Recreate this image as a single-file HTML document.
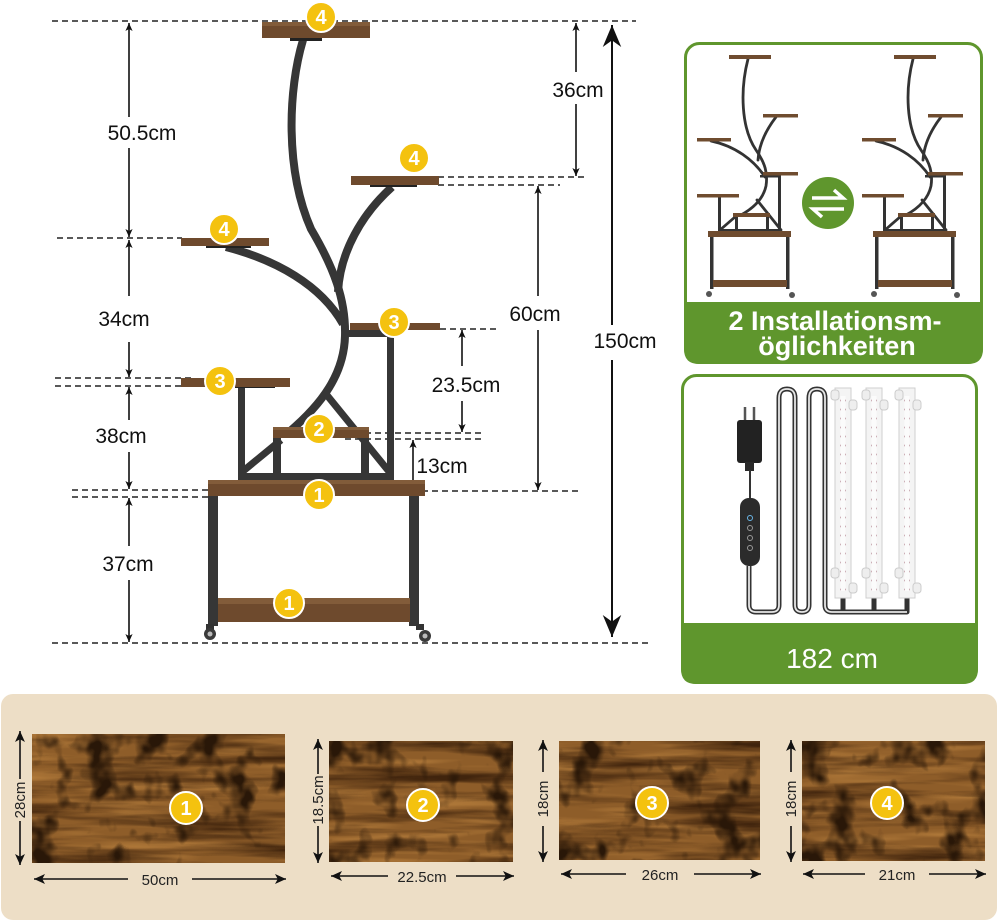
<!DOCTYPE html>
<html><head><meta charset="utf-8"><style>
html,body{margin:0;padding:0;background:#fff;}
svg{display:block;}
text{font-family:"Liberation Sans",sans-serif;}
</style></head><body>
<svg width="1000" height="923" viewBox="0 0 1000 923" xmlns="http://www.w3.org/2000/svg">
<defs>
<marker id="ah" viewBox="0 0 10 10" refX="10" refY="5" markerWidth="8" markerHeight="8" markerUnits="userSpaceOnUse" orient="auto-start-reverse"><path d="M0,0.5 L10,5 L0,9.5 L2.5,5 z" fill="#111"/></marker>
<marker id="ahb" viewBox="0 0 10 10" refX="10" refY="5" markerWidth="11" markerHeight="11" markerUnits="userSpaceOnUse" orient="auto-start-reverse"><path d="M0,0.5 L10,5 L0,9.5 L2.5,5 z" fill="#111"/></marker>
<marker id="big" viewBox="0 0 10 10" refX="10" refY="5" markerWidth="22" markerHeight="22" markerUnits="userSpaceOnUse" orient="auto-start-reverse"><path d="M0,0.8 L10,5 L0,9.2 L3,5 z" fill="#111"/></marker>
<filter id="wf" x="0" y="0" width="1" height="1" color-interpolation-filters="sRGB">
<feTurbulence type="fractalNoise" baseFrequency="0.006 0.07" numOctaves="4" seed="7" result="g"/>
<feColorMatrix in="g" type="matrix" values="0 0 0 0 0.25  0 0 0 0 0.14  0 0 0 0 0.05  2.6 0 0 0 -1.1" result="d"/>
<feTurbulence type="fractalNoise" baseFrequency="0.035 0.03" numOctaves="3" seed="3" result="s"/>
<feColorMatrix in="s" type="matrix" values="0 0 0 0 0.16  0 0 0 0 0.09  0 0 0 0 0.03  4.0 0 0 0 -2.05" result="sp"/>
<feTurbulence type="fractalNoise" baseFrequency="0.01 0.12" numOctaves="2" seed="11" result="l"/>
<feColorMatrix in="l" type="matrix" values="0 0 0 0 0.72  0 0 0 0 0.5  0 0 0 0 0.24  2.2 0 0 0 -1.05" result="lt"/>
<feComposite in="lt" in2="SourceGraphic" operator="over" result="c0"/>
<feComposite in="d" in2="c0" operator="over" result="c"/>
<feComposite in="sp" in2="c" operator="over" result="c2"/>
<feComposite in="c2" in2="SourceAlpha" operator="in"/>
</filter>
<pattern id="dots" x="0" y="0" width="6" height="9" patternUnits="userSpaceOnUse"><circle cx="3" cy="4.5" r="1" fill="#c8a9b0"/></pattern>
<g id="mini">
  <g fill="none" stroke="#333" stroke-width="2.8" stroke-linecap="round">
    <path d="M748,59 C740,90 741,128 756,150 C765,163 768,173 766,186 C763,200 752,209 741,215"/>
    <path d="M776,117 C766,130 759,145 758,160"/>
    <path d="M711,141 C735,146 754,160 765,177"/>
    <path d="M757,200 L781,230"/>
    <path d="M720,230 L735,217"/>
  </g>
  <g fill="#333">
    <rect x="778" y="175" width="3" height="57"/>
    <rect x="718" y="197" width="3" height="35"/>
    <rect x="735" y="217" width="3" height="15"/>
    <rect x="766" y="217" width="3" height="15"/>
    <rect x="718" y="229" width="63" height="3"/>
    <rect x="710" y="237" width="3.5" height="52"/>
    <rect x="786" y="237" width="3.5" height="52"/>
    <rect x="760" y="175" width="20" height="2.5"/>
  </g>
  <g fill="#6f4c2f">
    <rect x="729" y="55" width="42" height="4"/>
    <rect x="763" y="114" width="35" height="3.5"/>
    <rect x="697" y="138" width="34" height="3.5"/>
    <rect x="763" y="172" width="35" height="3.5"/>
    <rect x="697" y="194" width="42" height="3.5"/>
    <rect x="733" y="213" width="37" height="4"/>
    <rect x="708" y="231" width="83" height="6"/>
    <rect x="713" y="280" width="74" height="7"/>
  </g>
  <circle cx="709" cy="294" r="3" fill="#555"/>
  <circle cx="792" cy="295" r="3" fill="#555"/>
</g>
<g id="led">
  <rect x="-8" y="388" width="16" height="210" fill="#f4f4f4" stroke="#cfcfcf" stroke-width="1"/>
  <rect x="-2.5" y="396" width="5" height="195" fill="#fbfbfb"/>
  <rect x="-3" y="396" width="6" height="195" fill="url(#dots)"/>
  <rect x="-12" y="390" width="8" height="10" rx="3" fill="#eee" stroke="#ccc"/>
  <rect x="6" y="400" width="8" height="10" rx="3" fill="#eee" stroke="#ccc"/>
  <rect x="-12" y="568" width="8" height="10" rx="3" fill="#eee" stroke="#ccc"/>
  <rect x="6" y="583" width="8" height="10" rx="3" fill="#eee" stroke="#ccc"/>
</g>
</defs>

<!-- ============ MAIN DIAGRAM ============ -->
<g stroke="#222" stroke-width="1.4" stroke-dasharray="6,4" fill="none">
  <line x1="52" y1="21" x2="636" y2="21"/>
  <line x1="438" y1="177" x2="588" y2="177"/>
  <line x1="438" y1="185" x2="560" y2="185"/>
  <line x1="57" y1="238" x2="182" y2="238"/>
  <line x1="440" y1="329" x2="496" y2="329"/>
  <line x1="55" y1="378" x2="195" y2="378"/>
  <line x1="55" y1="386" x2="195" y2="386"/>
  <line x1="345" y1="433" x2="484" y2="433"/>
  <line x1="345" y1="439" x2="484" y2="439"/>
  <line x1="72" y1="490" x2="208" y2="490"/>
  <line x1="72" y1="497" x2="208" y2="497"/>
  <line x1="372" y1="491" x2="580" y2="491"/>
  <line x1="52" y1="643" x2="648" y2="643"/>
</g>

<g stroke="#111" stroke-width="1.6" fill="none">
  <line x1="129" y1="23" x2="129" y2="117" marker-start="url(#ah)"/>
  <line x1="129" y1="148" x2="129" y2="237" marker-end="url(#ah)"/>
  <line x1="129" y1="240" x2="129" y2="296" marker-start="url(#ah)"/>
  <line x1="129" y1="342" x2="129" y2="377" marker-end="url(#ah)"/>
  <line x1="129" y1="387" x2="129" y2="420" marker-start="url(#ah)"/>
  <line x1="129" y1="452" x2="129" y2="489" marker-end="url(#ah)"/>
  <line x1="129" y1="498" x2="129" y2="546" marker-start="url(#ah)"/>
  <line x1="129" y1="580" x2="129" y2="642" marker-end="url(#ah)"/>
  <line x1="576" y1="23" x2="576" y2="72" marker-start="url(#ah)"/>
  <line x1="576" y1="104" x2="576" y2="176" marker-end="url(#ah)"/>
  <line x1="538" y1="186" x2="538" y2="296" marker-start="url(#ah)"/>
  <line x1="538" y1="330" x2="538" y2="490" marker-end="url(#ah)"/>
  <line x1="462" y1="330" x2="462" y2="366" marker-start="url(#ah)"/>
  <line x1="462" y1="401" x2="462" y2="432" marker-end="url(#ah)"/>
  <line x1="413" y1="440" x2="413" y2="490" marker-start="url(#ah)" marker-end="url(#ah)"/>
  <line x1="612" y1="25" x2="612" y2="325" stroke-width="2" marker-start="url(#big)"/>
  <line x1="612" y1="360" x2="612" y2="637" stroke-width="2" marker-end="url(#big)"/>
</g>

<g font-size="21" fill="#111" text-anchor="middle">
  <text x="142" y="140">50.5cm</text>
  <text x="578" y="97">36cm</text>
  <text x="124" y="326">34cm</text>
  <text x="535" y="321">60cm</text>
  <text x="625" y="348">150cm</text>
  <text x="466" y="392">23.5cm</text>
  <text x="121" y="443">38cm</text>
  <text x="442" y="473">13cm</text>
  <text x="128" y="571">37cm</text>
</g>

<g fill="none" stroke="#363636" stroke-width="8" stroke-linecap="butt">
  <path d="M303,40 C288,90 285,170 311,229 C334,268 346,300 345,336 C344,374 322,404 289,432"/>
  <path d="M392,187 C362,214 340,252 338,292"/>
  <path d="M226,247 C276,260 321,285 343,324"/>
</g>
<g stroke="#363636" stroke-width="7" fill="none">
  <line x1="242" y1="472" x2="281" y2="440"/>
  <line x1="326" y1="394" x2="391" y2="474"/>
</g>
<g fill="#363636">
  <rect x="343" y="330" width="50" height="7"/>
  <rect x="387" y="335" width="7" height="146"/>
  <rect x="238" y="387" width="7" height="94"/>
  <rect x="238" y="473" width="156" height="8"/>
  <rect x="273" y="438" width="8" height="50"/>
  <rect x="361" y="438" width="8" height="50"/>
  <rect x="290" y="35" width="32" height="6" fill="#222"/>
  <rect x="370" y="183" width="47" height="4" fill="#222"/>
  <rect x="206" y="244" width="45" height="4" fill="#222"/>
  <rect x="235" y="385" width="40" height="3" fill="#222"/>
  <rect x="208" y="496" width="10" height="130"/>
  <rect x="409" y="496" width="10" height="130"/>
</g>
<g fill="#6e4a2d">
  <rect x="262" y="22" width="108" height="16"/>
  <rect x="351" y="176" width="88" height="9"/>
  <rect x="181" y="238" width="88" height="8"/>
  <rect x="350" y="323" width="90" height="7"/>
  <rect x="181" y="378" width="109" height="9"/>
  <rect x="273" y="427" width="96" height="11"/>
  <rect x="208" y="480" width="217" height="16"/>
  <rect x="218" y="598" width="192" height="24"/>
</g>
<g fill="#8a6440" opacity="0.7">
  <rect x="262" y="22" width="108" height="4"/>
  <rect x="208" y="480" width="217" height="4"/>
  <rect x="273" y="427" width="96" height="3"/>
  <rect x="218" y="598" width="192" height="6"/>
</g>
<g>
  <rect x="206" y="624" width="8" height="6" fill="#333"/>
  <circle cx="210" cy="634" r="6" fill="#3a3a3a"/><circle cx="210" cy="634" r="2.5" fill="#bbb"/>
  <rect x="416" y="624" width="8" height="6" fill="#333"/>
  <circle cx="425" cy="636" r="6" fill="#3a3a3a"/><circle cx="425" cy="636" r="2.5" fill="#bbb"/>
</g>

<g font-size="20" font-weight="bold" fill="#fff" text-anchor="middle">
  <g><circle cx="321" cy="17" r="15" fill="#f4c20f" stroke="#fff" stroke-width="2"/><text x="321" y="24">4</text></g>
  <g><circle cx="414" cy="158" r="15" fill="#f4c20f" stroke="#fff" stroke-width="2"/><text x="414" y="165">4</text></g>
  <g><circle cx="224" cy="229" r="15" fill="#f4c20f" stroke="#fff" stroke-width="2"/><text x="224" y="236">4</text></g>
  <g><circle cx="394" cy="322" r="15" fill="#f4c20f" stroke="#fff" stroke-width="2"/><text x="394" y="329">3</text></g>
  <g><circle cx="220" cy="381" r="15" fill="#f4c20f" stroke="#fff" stroke-width="2"/><text x="220" y="388">3</text></g>
  <g><circle cx="319" cy="429" r="15" fill="#f4c20f" stroke="#fff" stroke-width="2"/><text x="319" y="436">2</text></g>
  <g><circle cx="319" cy="495" r="15" fill="#f4c20f" stroke="#fff" stroke-width="2"/><text x="319" y="502">1</text></g>
  <g><circle cx="289" cy="603" r="15" fill="#f4c20f" stroke="#fff" stroke-width="2"/><text x="289" y="610">1</text></g>
</g>

<!-- ============ PANEL 1 ============ -->
<rect x="685.5" y="43.5" width="296" height="319" rx="14" fill="#fff" stroke="#5f962d" stroke-width="3"/>
<path d="M684,302 H983 V349 Q983,364 968,364 H699 Q684,364 684,349 Z" fill="#5f962d"/>
<use href="#mini"/>
<use href="#mini" transform="translate(165,0)"/>
<circle cx="828" cy="203" r="26" fill="#5f962d"/>
<g stroke="#fff" stroke-width="3.5" fill="none" stroke-linejoin="miter" stroke-linecap="butt">
  <path d="M812,198 H843 L834,190"/>
  <path d="M844,209 H813 L822,217"/>
</g>
<g font-size="27" font-weight="bold" fill="#fff" text-anchor="middle">
  <text x="835" y="330">2 Installationsm-</text>
  <text x="837" y="355">öglichkeiten</text>
</g>

<!-- ============ PANEL 2 ============ -->
<rect x="682.5" y="375.5" width="294" height="307" rx="14" fill="#fff" stroke="#5f962d" stroke-width="3"/>
<path d="M681,623 H978 V669 Q978,684 963,684 H696 Q681,684 681,669 Z" fill="#5f962d"/>
<g fill="none" stroke-linejoin="round">
  <path d="M749,566 L749,605 Q749,612 756,612 L772,612 Q779,612 779,605 L779,398 Q779,389 787,389 Q795,389 795,398 L795,605 Q795,612 802,612 Q809,612 809,605 L809,398 Q809,389 817,389 Q825,389 825,398 L825,605 Q825,612 832,612 L907,612 L907,598 M843,612 L843,598 M874,612 L874,598" stroke="#333" stroke-width="5"/>
  <path d="M749,566 L749,605 Q749,612 756,612 L772,612 Q779,612 779,605 L779,398 Q779,389 787,389 Q795,389 795,398 L795,605 Q795,612 802,612 Q809,612 809,605 L809,398 Q809,389 817,389 Q825,389 825,398 L825,605 Q825,612 832,612 L907,612" stroke="#e6e6e6" stroke-width="1.8"/>
</g>
<line x1="745" y1="407" x2="745" y2="421" stroke="#555" stroke-width="2.5"/>
<line x1="754" y1="407" x2="754" y2="421" stroke="#555" stroke-width="2.5"/>
<rect x="737" y="420" width="25" height="43" rx="3" fill="#222"/>
<rect x="745" y="462" width="9" height="9" fill="#2a2a2a"/>
<line x1="750" y1="470" x2="750" y2="499" stroke="#333" stroke-width="2"/>
<rect x="740" y="498" width="20" height="68" rx="9" fill="#2b2b2b"/>
<g fill="none" stroke="#999" stroke-width="1">
  <circle cx="750" cy="518" r="2.5" stroke="#6bb6e6"/>
  <circle cx="750" cy="528" r="2.5"/>
  <circle cx="750" cy="538" r="2.5"/>
  <circle cx="750" cy="548" r="2.5"/>
</g>
<use href="#led" transform="translate(843,0)"/>
<use href="#led" transform="translate(874,0)"/>
<use href="#led" transform="translate(907,0)"/>
<text x="832" y="668" font-size="28" fill="#fff" text-anchor="middle">182 cm</text>

<!-- ============ BOTTOM BEIGE PANEL ============ -->
<rect x="1" y="694" width="996" height="226" rx="12" fill="#eddec6"/>
<g filter="url(#wf)">
  <rect x="32" y="734" width="253" height="129" fill="#8e5d29"/>
  <rect x="329" y="741" width="184" height="121" fill="#8e5d29"/>
  <rect x="559" y="741" width="201" height="119" fill="#8e5d29"/>
  <rect x="802" y="741" width="183" height="120" fill="#8e5d29"/>
</g>
<g font-size="20" font-weight="bold" fill="#fff" text-anchor="middle">
  <g><circle cx="186" cy="808" r="16" fill="#f4c20f" stroke="#fff" stroke-width="2"/><text x="186" y="815">1</text></g>
  <g><circle cx="423" cy="805" r="16" fill="#f4c20f" stroke="#fff" stroke-width="2"/><text x="423" y="812">2</text></g>
  <g><circle cx="652" cy="803" r="16" fill="#f4c20f" stroke="#fff" stroke-width="2"/><text x="652" y="810">3</text></g>
  <g><circle cx="887" cy="803" r="16" fill="#f4c20f" stroke="#fff" stroke-width="2"/><text x="887" y="810">4</text></g>
</g>
<g stroke="#111" stroke-width="1.6" fill="none">
  <line x1="20" y1="731" x2="20" y2="779" marker-start="url(#ahb)"/>
  <line x1="20" y1="821" x2="20" y2="865" marker-end="url(#ahb)"/>
  <line x1="34" y1="879" x2="128" y2="879" marker-start="url(#ahb)"/>
  <line x1="192" y1="879" x2="286" y2="879" marker-end="url(#ahb)"/>
  <line x1="318" y1="739" x2="318" y2="774" marker-start="url(#ahb)"/>
  <line x1="318" y1="826" x2="318" y2="863" marker-end="url(#ahb)"/>
  <line x1="331" y1="876" x2="388" y2="876" marker-start="url(#ahb)"/>
  <line x1="456" y1="876" x2="514" y2="876" marker-end="url(#ahb)"/>
  <line x1="543" y1="740" x2="543" y2="772" marker-start="url(#ahb)"/>
  <line x1="543" y1="826" x2="543" y2="862" marker-end="url(#ahb)"/>
  <line x1="561" y1="874" x2="626" y2="874" marker-start="url(#ahb)"/>
  <line x1="694" y1="874" x2="761" y2="874" marker-end="url(#ahb)"/>
  <line x1="791" y1="740" x2="791" y2="772" marker-start="url(#ahb)"/>
  <line x1="791" y1="826" x2="791" y2="862" marker-end="url(#ahb)"/>
  <line x1="803" y1="874" x2="865" y2="874" marker-start="url(#ahb)"/>
  <line x1="929" y1="874" x2="986" y2="874" marker-end="url(#ahb)"/>
</g>
<g font-size="15" fill="#222" text-anchor="middle">
  <text x="160" y="885">50cm</text>
  <text x="422" y="882">22.5cm</text>
  <text x="660" y="880">26cm</text>
  <text x="897" y="880">21cm</text>
  <text transform="translate(25,800) rotate(-90)">28cm</text>
  <text transform="translate(323,800) rotate(-90)">18.5cm</text>
  <text transform="translate(548,799) rotate(-90)">18cm</text>
  <text transform="translate(796,799) rotate(-90)">18cm</text>
</g>
</svg>
</body></html>
